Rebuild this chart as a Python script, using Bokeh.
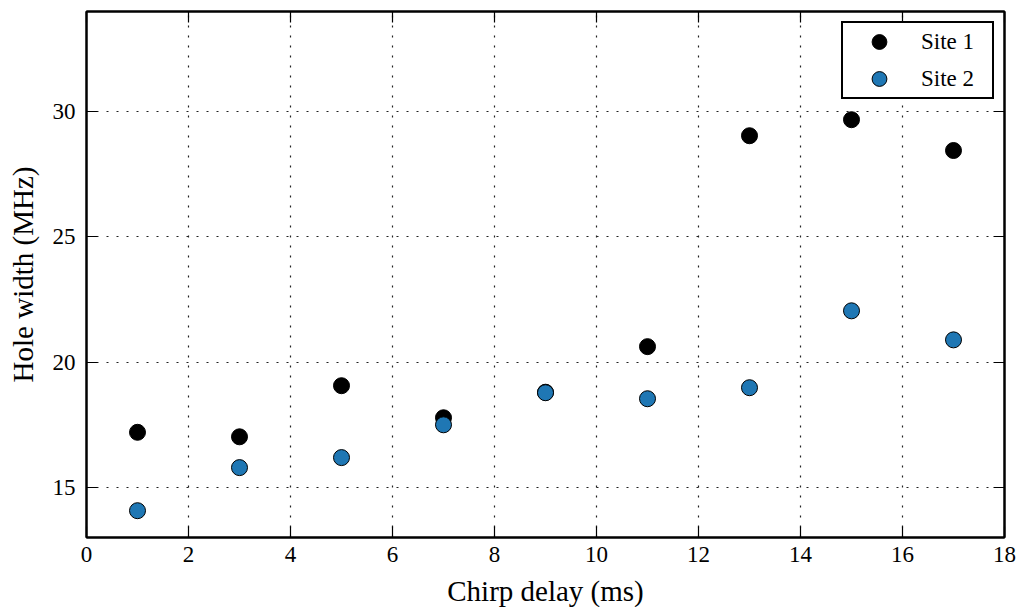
from bokeh.plotting import figure
from bokeh.models import (ColumnDataSource, FixedTicker, LinearAxis, Range1d,
                          Legend, LegendItem)
from bokeh.embed import file_html
from bokeh.resources import INLINE

# Chirp delay (ms) and measured spectral hole widths (MHz)
delay = [1, 3, 5, 7, 9, 11, 13, 15, 17]
site1_width = [17.2, 17.02, 19.06, 17.78, 18.8, 20.62, 29.04, 29.68, 28.45]
site2_width = [14.07, 15.79, 16.19, 17.5, 18.78, 18.54, 18.98, 22.05, 20.89]

x_ticks = [0, 2, 4, 6, 8, 10, 12, 14, 16, 18]
y_ticks = [15, 20, 25, 30]

FONT = "Liberation Serif"

p = figure(frame_width=918, frame_height=526,
           x_range=Range1d(0, 18), y_range=Range1d(13, 34),
           output_backend="svg", toolbar_location=None,
           min_border_left=86, min_border_right=13,
           min_border_top=11, min_border_bottom=70,
           background_fill_color="white", border_fill_color="white")

p.outline_line_color = "black"
p.outline_line_width = 2

bottom_axis = p.below[0]
left_axis = p.left[0]

# mirrored axes on top and right: tick marks only, labels not drawn
top_axis = LinearAxis()
right_axis = LinearAxis()
p.add_layout(top_axis, "above")
p.add_layout(right_axis, "right")

for ax in [bottom_axis, top_axis]:
    ax.ticker = FixedTicker(ticks=x_ticks)
for ax in [left_axis, right_axis]:
    ax.ticker = FixedTicker(ticks=y_ticks)

for ax in [bottom_axis, left_axis, top_axis, right_axis]:
    ax.axis_line_color = "black"
    ax.axis_line_width = 2
    ax.major_tick_in = 11
    ax.major_tick_out = 0
    ax.major_tick_line_width = 1.2
    ax.minor_tick_line_color = None
    ax.major_label_text_font = FONT
    ax.major_label_text_font_size = "23px"
    ax.major_label_text_color = "black"
    ax.axis_label_text_font = FONT
    ax.axis_label_text_font_size = "29px"
    ax.axis_label_text_font_style = "normal"
    ax.axis_label_text_color = "black"

for ax in [top_axis, right_axis]:
    ax.major_label_standoff = 0
    ax.major_label_text_color = None
    ax.major_label_text_font_size = "1px"

bottom_axis.axis_label = "Chirp delay (ms)"
left_axis.axis_label = "Hole width (MHz)"
bottom_axis.major_label_standoff = 9
left_axis.major_label_standoff = 11
bottom_axis.axis_label_standoff = 10
left_axis.axis_label_standoff = 11

p.xgrid.ticker = FixedTicker(ticks=x_ticks)
p.ygrid.ticker = FixedTicker(ticks=y_ticks)
for g in [p.xgrid, p.ygrid]:
    g.grid_line_color = "#222222"
    g.grid_line_width = 1.2
    g.grid_line_dash = "2 8"

src = ColumnDataSource(dict(x=delay, s1=site1_width, s2=site2_width))
r1 = p.scatter("x", "s1", source=src, size=16, fill_color="black",
               line_color="black", line_width=1)
r2 = p.scatter("x", "s2", source=src, size=16, fill_color="#1f77b4",
               line_color="black", line_width=1)

legend = Legend(items=[LegendItem(label="Site 1", renderers=[r1]),
                       LegendItem(label="Site 2", renderers=[r2])],
                location="top_right")
legend.label_text_font = FONT
legend.label_text_font_size = "23px"
legend.label_text_color = "black"
legend.border_line_color = "black"
legend.border_line_alpha = 1
legend.border_line_width = 2
legend.margin = 10
legend.padding = 0
legend.spacing = 0
legend.glyph_height = 37
legend.glyph_width = 72
legend.label_standoff = 6
legend.label_width = 71
legend.background_fill_color = "white"
legend.background_fill_alpha = 1
p.add_layout(legend)

open("out.html", "w").write(file_html(p, INLINE))
